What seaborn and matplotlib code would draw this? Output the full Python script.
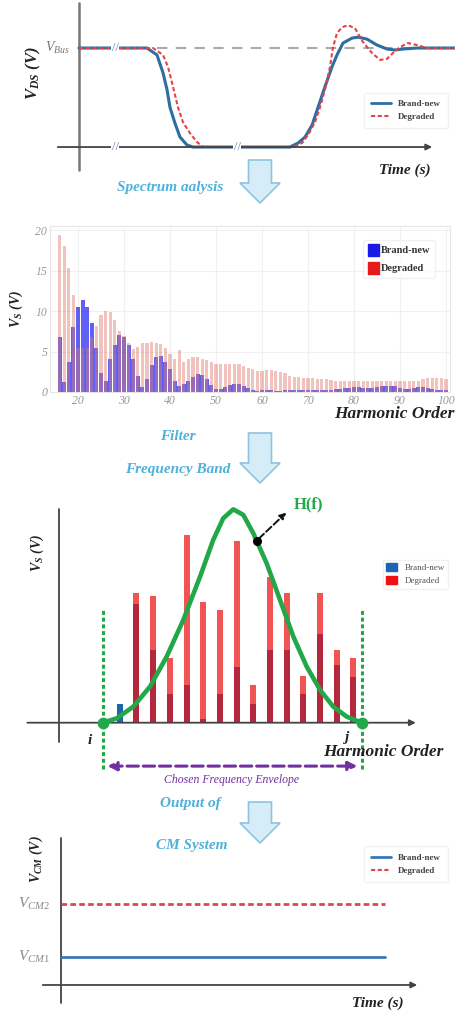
import matplotlib
matplotlib.use("Agg")
import matplotlib.pyplot as plt
import matplotlib.patches as mpatches
from matplotlib.lines import Line2D
import seaborn as sns

# ---- panel 1: V_DS switching waveform (time a.u., voltage / V_Bus)
t_new = [0, 6.8, 7.8, 8.4, 8.8, 9.1, 9.6, 10.1, 10.8, 11.4, 21.1, 21.9, 22.6, 23.3, 23.9,
         24.6, 25.3, 25.8, 26.4, 27.3, 27.9, 28.8, 29.8, 30.8, 31.6, 32.4, 33.8, 37.6]
v_new = [1.0, 1.0, 0.93, 0.75, 0.58, 0.40, 0.24, 0.10, 0.02, 0.0, 0.0, 0.04, 0.10, 0.22, 0.40,
         0.61, 0.81, 0.93, 1.05, 1.10, 1.11, 1.09, 1.03, 0.99, 0.98, 0.99, 1.0, 1.0]
t_deg = [0, 7.4, 8.4, 8.9, 9.4, 9.9, 10.4, 11.1, 11.8, 12.4, 21.4, 22.3, 22.9, 23.6, 24.1, 24.6,
         25.1, 25.4, 25.8, 26.3, 26.9, 27.6, 28.4, 29.3, 30.1, 30.8, 31.4, 32.1, 32.9, 33.8, 34.8, 37.6]
v_deg = [1.0, 1.0, 0.93, 0.81, 0.61, 0.40, 0.25, 0.14, 0.05, 0.0, 0.0, 0.04, 0.12, 0.25, 0.40, 0.58,
         0.81, 1.01, 1.15, 1.21, 1.23, 1.20, 1.06, 0.95, 0.88, 0.89, 0.95, 1.01, 1.05, 1.03, 1.0, 1.0]

# ---- panel 2: harmonic spectrum
harm = list(range(16, 101))
vs_deg = [19.4, 18.0, 15.3, 12.0, 5.4, 5.4, 5.4, 6.8, 8.2, 9.5,
          10.0, 9.9, 8.9, 7.5, 6.9, 6.0, 5.3, 5.6, 6.0, 6.1,
          6.2, 6.1, 5.9, 5.4, 4.7, 4.1, 5.2, 3.7, 4.1, 4.3,
          4.3, 4.1, 3.9, 3.7, 3.5, 3.4, 3.4, 3.5, 3.5, 3.4,
          3.2, 3.0, 2.8, 2.6, 2.6, 2.7, 2.7, 2.6, 2.5, 2.3,
          2.0, 1.8, 1.8, 1.7, 1.7, 1.7, 1.6, 1.6, 1.6, 1.5,
          1.4, 1.4, 1.4, 1.4, 1.4, 1.4, 1.3, 1.3, 1.3, 1.3,
          1.3, 1.4, 1.4, 1.4, 1.3, 1.3, 1.3, 1.4, 1.4, 1.6,
          1.7, 1.7, 1.7, 1.7, 1.6]
vs_new = [6.8, 1.2, 3.7, 8.0, 10.5, 11.3, 10.5, 8.5, 5.4, 2.3,
          1.4, 4.1, 5.8, 7.0, 6.8, 5.8, 4.1, 2.0, 0.6, 1.6,
          3.3, 4.3, 4.4, 3.7, 2.9, 1.4, 0.8, 1.0, 1.4, 1.9,
          2.2, 2.1, 1.6, 0.9, 0.4, 0.4, 0.6, 0.9, 1.0, 1.0,
          0.7, 0.5, 0.2, 0.1, 0.3, 0.3, 0.2, 0.1, 0.1, 0.2,
          0.2, 0.3, 0.3, 0.3, 0.3, 0.3, 0.3, 0.3, 0.3, 0.3,
          0.4, 0.4, 0.5, 0.5, 0.6, 0.6, 0.5, 0.5, 0.5, 0.6,
          0.7, 0.8, 0.8, 0.7, 0.5, 0.4, 0.4, 0.5, 0.6, 0.6,
          0.5, 0.4, 0.3, 0.3, 0.3]

# ---- panel 3: filtered band i..j
band_i = 0
band_j = 15.5
band_k = list(range(1, 16))
band_deg = [0.0, 6.5, 6.35, 3.25, 9.4, 6.05, 5.65, 9.1, 1.9, 7.3, 6.5, 2.35, 6.5, 3.65, 3.25]
band_new = [0.93, 5.95, 3.65, 1.45, 1.9, 0.2, 1.45, 2.8, 0.95, 3.65, 3.65, 1.45, 4.45, 2.9, 2.3]
hf_k = [0, 0.82, 1.81, 2.81, 3.81, 4.81, 5.81, 6.6, 7.2, 7.8, 8.4, 9.0, 9.8, 10.6,
        11.4, 12.2, 13.0, 13.79, 14.6, 15.5]
hf_v = [0, 0.22, 0.8, 1.8, 3.3, 5.14, 7.3, 9.14, 10.22, 10.67, 10.39, 9.47, 7.97, 6.14,
        4.3, 2.8, 1.64, 0.8, 0.3, 0]

# ---- panel 4: CM system output
cm_t = [0, 32.4]
vcm1 = 1.0
vcm2 = 2.9

sns.set_theme(style="white")
plt.rcParams['font.family'] = ['Liberation Serif', 'DejaVu Serif']
plt.rcParams['mathtext.fontset'] = 'custom'
plt.rcParams['mathtext.rm'] = 'Liberation Serif'
plt.rcParams['mathtext.it'] = 'Liberation Serif:italic'
plt.rcParams['mathtext.bf'] = 'Liberation Serif:bold:italic'

W, H = 455, 1016
fig = plt.figure(figsize=(W / 100, H / 100), dpi=100)


def box(x0, y0, x1, y1):
    return [x0 / W, 1 - y1 / H, (x1 - x0) / W, (y1 - y0) / H]


blue1 = '#2d6ea0'
red1 = '#e3434b'
axis_c = '#444444'
lab = dict(fontweight='bold', style='italic', color='#222222')
leg_prop = dict(family='Liberation Serif', weight='bold', size=6.5)

# ================= panel 1
ax1 = fig.add_axes(box(0, 0, 455, 180))
ax1.set_xlim(-7.9, 37.6)
ax1.set_ylim(-0.333, 1.485)
ax1.set_axis_off()
ax1.plot([0, 0], [-0.23, 1.455], color='#777777', lw=1.8)
ax1.annotate('', xy=(35.6, 0), xytext=(-2.4, 0),
             arrowprops=dict(arrowstyle='-|>', color=axis_c, lw=1.3, mutation_scale=9))
ax1.plot([7.8, 37.6], [1, 1], color='#aaaaaa', lw=1.5, ls=(0, (5, 4)))
sns.lineplot(x=t_new, y=v_new, ax=ax1, color=blue1, lw=2.2, sort=False, estimator=None)
sns.lineplot(x=t_deg, y=v_deg, ax=ax1, color=red1, lw=1.5, sort=False, estimator=None,
             linestyle=(0, (2, 1.2)))
for bt, bv in [(3.6, 1.0), (3.6, 0.0), (15.8, 0.0)]:
    ax1.text(bt, bv, '//', ha='center', va='center', fontsize=9, color='#5a7fa8',
             bbox=dict(facecolor='white', edgecolor='none', pad=0.3))
ax1.text(-0.9, 1.0, r'$V_{Bus}$', ha='right', va='center', fontsize=10, color='#777777')
ax1.text(-4.6, 0.75, r'$\mathbf{V_{DS}}$ (V)', rotation=90, ha='center', va='center',
         fontsize=12, **lab)
ax1.text(32.6, -0.23, 'Time (s)', ha='center', va='center', fontsize=11, **lab)
h1 = [Line2D([], [], color=blue1, lw=2), Line2D([], [], color=red1, lw=1.5, ls=(0, (2, 1.2)))]
ax1.legend(h1, ['Brand-new', 'Degraded'], loc='upper right', bbox_to_anchor=(0.995, 0.51),
           prop=leg_prop, frameon=True, edgecolor='#eeeeee', handlelength=2.2,
           labelcolor='#444444', borderpad=0.8)

# ================= panel 2
ax2 = fig.add_axes(box(50, 226, 450, 392))
sns.barplot(x=harm, y=vs_new, ax=ax2, native_scale=True, width=0.88, color='#3333f2',
            alpha=0.78, saturation=1, errorbar=None, linewidth=0, zorder=2)
sns.barplot(x=harm, y=vs_deg, ax=ax2, native_scale=True, width=0.7, color='#de7a6f',
            alpha=0.45, saturation=1, errorbar=None, linewidth=0, zorder=3)
ax2.set_xlim(13.91, 100.87)
ax2.set_ylim(0, 20.5)
ax2.set_xticks(range(20, 101, 10))
ax2.set_yticks(range(0, 21, 5))
ax2.grid(True, color='#f0f0f0', lw=0.8, zorder=0)
ax2.set_axisbelow(True)
for s in ax2.spines.values():
    s.set_color('#e6e6e6')
    s.set_linewidth(0.8)
ax2.tick_params(length=0, labelsize=8.5, labelcolor='#999999', pad=2)
for t in ax2.get_xticklabels() + ax2.get_yticklabels():
    t.set_style('italic')
ax2.set_xlabel('')
ax2.set_ylabel(r'$\mathbf{V_{S}}$ (V)', fontsize=10, **lab)
ax2.yaxis.set_label_coords(-0.063, 0.5)
h2 = [mpatches.Patch(color='#1a1ae6'), mpatches.Patch(color='#e61a1a')]
ax2.legend(h2, ['Brand-new', 'Degraded'], loc='upper right', bbox_to_anchor=(0.975, 0.95),
           prop=dict(family='Liberation Serif', weight='bold', size=7.5), frameon=True,
           edgecolor='#eeeeee', handlelength=1.1, handleheight=1.4, handletextpad=0.2,
           labelcolor='#333333', labelspacing=0.6)

# ================= panel 3
ax3 = fig.add_axes(box(0, 485, 455, 790))
sns.barplot(x=band_k, y=band_new, ax=ax3, native_scale=True, width=0.36, color='#1f64b0',
            saturation=1, errorbar=None, linewidth=0, zorder=2)
sns.barplot(x=band_k, y=band_deg, ax=ax3, native_scale=True, width=0.36, color='#ee1111',
            alpha=0.72, saturation=1, errorbar=None, linewidth=0, zorder=3)
ax3.set_xlim(-6.17, 21.08)
ax3.set_ylim(-3.365, 11.885)
ax3.set_axis_off()
ax3.plot([-2.63, -2.63], [-0.97, 10.7], color=axis_c, lw=1.3)
ax3.annotate('', xy=(18.9, 0), xytext=(-4.7, 0),
             arrowprops=dict(arrowstyle='-|>', color=axis_c, lw=1.3, mutation_scale=9))
green = '#22a848'
for xb in (band_i, band_j):
    ax3.plot([xb, xb], [-2.3, 5.7], color=green, lw=2.2, ls=(0, (1.3, 0.9)))
sns.lineplot(x=hf_k, y=hf_v, ax=ax3, color=green, lw=3.3, sort=False, estimator=None, zorder=4)
ax3.scatter([band_i, band_j], [0, 0], s=55, color=green, zorder=5)
ax3.scatter([9.2], [9.1], s=30, color='black', zorder=6)
ax3.annotate('', xy=(11.1, 10.6), xytext=(9.2, 9.1),
             arrowprops=dict(arrowstyle='-|>', color='#111111', lw=1.4, ls='--', mutation_scale=9))
ax3.text(11.4, 10.9, 'H(f)', ha='left', va='center', fontsize=12, fontweight='bold', color=green)
ax3.text(-3.95, 8.5, r'$\mathbf{V_{S}}$ (V)', rotation=90, ha='center', va='center',
         fontsize=10, **lab)
ax3.text(-0.8, -0.9, 'i', ha='center', va='center', fontsize=11, **lab)
ax3.text(14.6, -0.75, 'j', ha='center', va='center', fontsize=11, **lab)
ax3.text(16.8, -1.45, 'Harmonic Order', ha='center', va='center', fontsize=12.5, **lab)
purple = '#7030a0'
ax3.annotate('', xy=(15.4, -2.17), xytext=(0.1, -2.17),
             arrowprops=dict(arrowstyle='<|-|>', color=purple, lw=2.2, ls='--', mutation_scale=13))
ax3.text(7.7, -2.87, 'Chosen Frequency Envelope', ha='center', va='center', fontsize=8.5,
         style='italic', color=purple)
h3 = [mpatches.Patch(color='#1f64b0'), mpatches.Patch(color='#ee1111')]
ax3.legend(h3, ['Brand-new', 'Degraded'], loc='upper right', bbox_to_anchor=(0.995, 0.77),
           prop=dict(family='Liberation Serif', size=6.5), frameon=True, edgecolor='#eeeeee',
           handlelength=1.2, handleheight=1.0, labelcolor='#555555', labelspacing=0.4)

# ================= panel 4
ax4 = fig.add_axes(box(0, 790, 455, 1016))
ax4.set_xlim(-6.1, 39.4)
ax4.set_ylim(-1.107, 6.96)
ax4.set_axis_off()
ax4.plot([0, 0], [-0.64, 5.25], color=axis_c, lw=1.3)
ax4.annotate('', xy=(35.9, 0), xytext=(-2.1, 0),
             arrowprops=dict(arrowstyle='-|>', color=axis_c, lw=1.3, mutation_scale=9))
sns.lineplot(x=cm_t, y=[vcm1, vcm1], ax=ax4, color='#3a78b5', lw=2, estimator=None)
sns.lineplot(x=cm_t, y=[vcm2, vcm2], ax=ax4, color=red1, lw=2, estimator=None,
             linestyle=(0, (2, 1.2)))
ax4.text(-1.1, vcm2, r'$V_{CM2}$', ha='right', va='center', fontsize=11, color='#888888')
ax4.text(-1.1, vcm1, r'$V_{CM1}$', ha='right', va='center', fontsize=11, color='#888888')
ax4.text(-2.5, 4.5, r'$\mathbf{V_{CM}}$ (V)', rotation=90, ha='center', va='center',
         fontsize=10, **lab)
ax4.text(31.7, -0.64, 'Time (s)', ha='center', va='center', fontsize=11, **lab)
h4 = [Line2D([], [], color='#3a78b5', lw=2), Line2D([], [], color=red1, lw=1.5, ls=(0, (2, 1.2)))]
ax4.legend(h4, ['Brand-new', 'Degraded'], loc='upper right', bbox_to_anchor=(0.995, 0.77),
           prop=leg_prop, frameon=True, edgecolor='#eeeeee', handlelength=2.2,
           labelcolor='#444444', borderpad=0.8)

# ================= flow arrows and captions
ov = fig.add_axes([0, 0, 1, 1])
ov.set_xlim(0, W)
ov.set_ylim(H, 0)
ov.set_axis_off()
ov.patch.set_alpha(0)
cap_c = '#4fb0da'
for y0, y1 in [(160, 203), (433, 483), (802, 843)]:
    ov.add_patch(mpatches.FancyArrow(260, y0, 0, y1 - y0, width=23, head_width=40,
                                     head_length=20, length_includes_head=True,
                                     facecolor='#d6ecf7', edgecolor='#8cc4e0', lw=1.2))
cap = dict(ha='center', va='center', fontsize=11, fontweight='bold', style='italic', color=cap_c)
ov.text(170, 188, 'Spectrum aalysis', **cap)
ov.text(178, 436, 'Filter', **cap)
ov.text(178, 469, 'Frequency Band', **cap)
ov.text(190, 803, 'Output of', **cap)
ov.text(192, 845, 'CM System', **cap)
ov.text(394, 414, 'Harmonic Order', fontsize=12.5, **lab, ha='center', va='center')

fig.savefig('out.png', dpi=100)
